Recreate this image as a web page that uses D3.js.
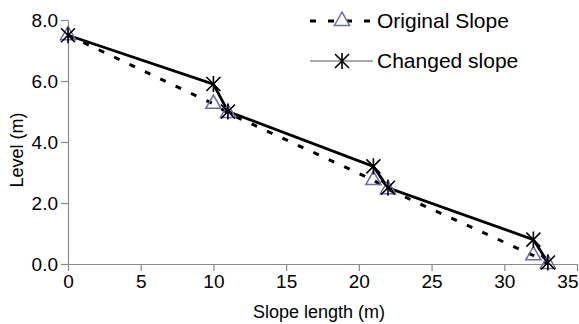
<!DOCTYPE html>
<html>
<head>
<meta charset="utf-8">
<script src="https://cdn.jsdelivr.net/npm/d3@7"></script>
<style>
  body { margin: 0; background: #fff; }
  text { font-family: "Liberation Sans", Arial, sans-serif; fill: #000; }
</style>
</head>
<body>
<script>
// data
const slopeLength = [0, 10, 11, 21, 22, 32, 33];
const originalLevel = [7.5, 5.25, 4.95, 2.75, 2.45, 0.28, 0.0];
const changedLevel = [7.5, 5.9, 5.0, 3.2, 2.5, 0.8, 0.05];
const xTicks = [0, 5, 10, 15, 20, 25, 30, 35];
const yTicks = [0, 2, 4, 6, 8];
const seriesNames = ["Original Slope", "Changed slope"];

const w = 579;
const h = 324;

const xScale = d3.scaleLinear().domain([0, 35]).range([68, 577]);
const yScale = d3.scaleLinear().domain([0, 8]).range([264, 20]);

const svg = d3.select("body")
  .append("svg")
  .attr("width", w)
  .attr("height", h);

// axes
const xAxis = d3.axisBottom(xScale).tickValues(xTicks).tickSize(7).tickPadding(4).tickSizeOuter(0);
const yAxis = d3.axisLeft(yScale).tickValues(yTicks).tickSize(7).tickPadding(3).tickSizeOuter(0)
  .tickFormat(d3.format(".1f"));

const gx = svg.append("g")
  .attr("transform", `translate(0, ${yScale(0)})`)
  .call(xAxis);
const gy = svg.append("g")
  .attr("transform", `translate(${xScale(0)}, 0)`)
  .call(yAxis);

[gx, gy].forEach(g => {
  g.select(".domain").attr("stroke", "#8a8a8a").attr("stroke-width", 1.2);
  g.selectAll(".tick line").attr("stroke", "#8a8a8a").attr("stroke-width", 1.2);
  g.selectAll(".tick text")
    .attr("font-size", 19)
    .attr("font-family", "'Liberation Sans', Arial, sans-serif")
    .attr("fill", "#000");
});

// last x label sits left of its tick so it stays inside
gx.selectAll(".tick text")
  .filter(d => d === 35)
  .attr("text-anchor", "end")
  .attr("dx", 1);

// axis titles
svg.append("text")
  .attr("x", 319)
  .attr("y", 318)
  .attr("text-anchor", "middle")
  .attr("font-size", 18)
  .text("Slope length (m)");

svg.append("text")
  .attr("transform", "translate(23, 150) rotate(-90)")
  .attr("text-anchor", "middle")
  .attr("font-size", 18)
  .text("Level (m)");

const original = slopeLength.map((x, i) => [x, originalLevel[i]]);
const changed = slopeLength.map((x, i) => [x, changedLevel[i]]);

const line = d3.line()
  .x(d => xScale(d[0]))
  .y(d => yScale(d[1]));

// lines
svg.append("path")
  .datum(original)
  .attr("d", line)
  .attr("fill", "none")
  .attr("stroke", "#000")
  .attr("stroke-width", 3)
  .attr("stroke-dasharray", "6,11");

svg.append("path")
  .datum(changed)
  .attr("d", line)
  .attr("fill", "none")
  .attr("stroke", "#000")
  .attr("stroke-width", 2.8);

// markers
const tri = d3.symbol().type(d3.symbolTriangle).size(100);
const starPath = (s) => {
  return `M${-s},${-s}L${s},${s}M${-s},${s}L${s},${-s}M0,${-s * 1.15}L0,${s * 1.15}`;
};

svg.selectAll(".tri")
  .data(original)
  .enter()
  .append("path")
  .attr("class", "tri")
  .attr("transform", d => `translate(${xScale(d[0])}, ${yScale(d[1])})`)
  .attr("d", tri)
  .attr("fill", "none")
  .attr("stroke", "#6b6ba6")
  .attr("stroke-width", 1.5);

svg.selectAll(".star")
  .data(changed)
  .enter()
  .append("path")
  .attr("class", "star")
  .attr("transform", d => `translate(${xScale(d[0])}, ${yScale(d[1])})`)
  .attr("d", starPath(7))
  .attr("fill", "none")
  .attr("stroke", "#000")
  .attr("stroke-width", 1.6);

// legend
const legend = svg.append("g");
const rows = [21, 61];

legend.append("line")
  .attr("x1", 310).attr("x2", 373)
  .attr("y1", rows[0]).attr("y2", rows[0])
  .attr("stroke", "#000")
  .attr("stroke-width", 3)
  .attr("stroke-dasharray", "6,12");
legend.append("path")
  .attr("transform", `translate(342, ${rows[0]})`)
  .attr("d", tri)
  .attr("fill", "#fff")
  .attr("stroke", "#6b6ba6")
  .attr("stroke-width", 1.5);

legend.append("line")
  .attr("x1", 310).attr("x2", 373)
  .attr("y1", rows[1]).attr("y2", rows[1])
  .attr("stroke", "#555")
  .attr("stroke-width", 1);
legend.append("path")
  .attr("transform", `translate(342, ${rows[1]})`)
  .attr("d", starPath(7))
  .attr("fill", "none")
  .attr("stroke", "#000")
  .attr("stroke-width", 1.6);

legend.selectAll(".ltext")
  .data(seriesNames)
  .enter()
  .append("text")
  .attr("x", 377)
  .attr("y", (d, i) => rows[i])
  .attr("dy", "0.35em")
  .attr("font-size", 21)
  .text(d => d);
</script>
</body>
</html>
